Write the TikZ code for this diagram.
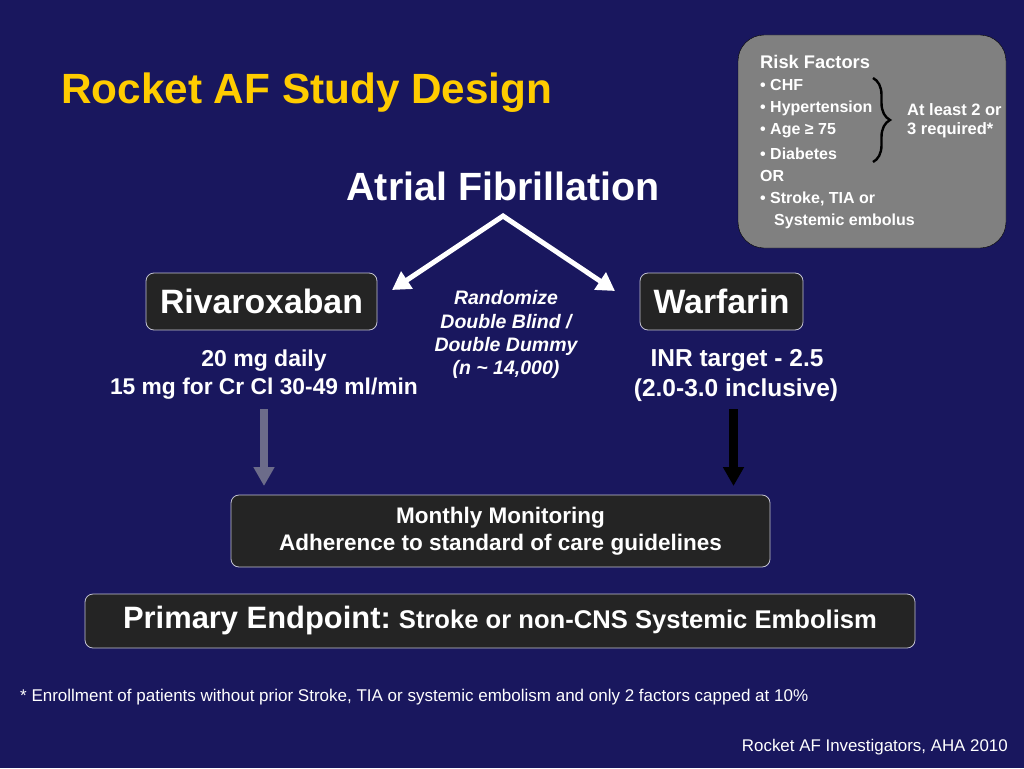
\documentclass[tikz,border=0pt]{standalone}
\usepackage{fontspec}
\setmainfont{Liberation Sans}
\usetikzlibrary{arrows.meta,decorations.pathreplacing}
\definecolor{bgnavy}{RGB}{25,23,94}
\definecolor{titlegold}{RGB}{255,204,0}
\definecolor{boxdark}{RGB}{36,36,36}
\definecolor{boxedge}{RGB}{195,195,210}
\definecolor{riskgray}{RGB}{128,128,128}
\definecolor{grayarrow}{RGB}{108,108,138}
\tikzset{
  darkbox/.style={draw=boxedge, line width=0.8pt, fill=boxdark, rounded corners=8pt, text=white, font=\bfseries},
  wtext/.style={text=white, font=\bfseries, inner sep=0pt},
  risktxt/.style={text=white, font=\bfseries\fontsize{16}{18}\selectfont, anchor=west, inner sep=0pt},
  randtxt/.style={text=white, font=\bfseries\itshape\fontsize{19.5}{21}\selectfont, inner sep=0pt},
  bigarrow/.style={draw=white, line width=5pt, line join=miter, {Triangle[width=20pt,length=18pt]}-{Triangle[width=20pt,length=18pt]}},
  downarrow/.style={line width=8.5pt, -{Triangle[width=20pt,length=19pt]}}
}
\begin{document}
\begin{tikzpicture}[x=1pt,y=-1pt]
\fill[bgnavy] (0,0) rectangle (1024,768);
\useasboundingbox (0,0) rectangle (1024,768);

\node[anchor=base west, text=titlegold, font=\bfseries\fontsize{42.3}{44}\selectfont, inner sep=0pt] (title) at (61,103) {Rocket AF Study Design};

% risk factors box
\draw[fill=riskgray, rounded corners=26pt] (738,35) rectangle (1006,248);
\node[risktxt, font=\bfseries\fontsize{18.3}{20}\selectfont] (rf) at (760,62) {Risk Factors};
\node[risktxt] (r1) at (760,85) {• CHF};
\node[risktxt] (r2) at (760,108) {• Hypertension};
\node[risktxt] (r3) at (760,131) {• Age ≥ 75};
\node[risktxt] (r4) at (760,154) {• Diabetes};
\node[risktxt] (r5) at (760,176) {OR};
\node[risktxt] (r6) at (760,199) {• Stroke, TIA or};
\node[risktxt] (r7) at (774,221) {Systemic embolus};
\coordinate (bt) at (873,78);
\coordinate (bb) at (873,162);
\draw[black, line width=2.4pt, decorate, decoration={brace, amplitude=17pt, aspect=0.5}] (bt) -- (bb);
\node[risktxt, font=\bfseries\fontsize{16.5}{18}\selectfont] (al1) at (907,110) {At least 2 or};
\node[risktxt, font=\bfseries\fontsize{16.5}{18}\selectfont] (al2) at (907,130) {3 required*};

% Atrial fibrillation
\node[wtext, anchor=base, font=\bfseries\fontsize{39.4}{42}\selectfont] (af) at (503,200) {Atrial Fibrillation};
\coordinate (apex) at (503,216);
\coordinate (lend) at (392,290);
\coordinate (rend) at (615,291);
\draw[bigarrow] (lend) -- (apex) -- (rend);

% drug boxes
\node[darkbox, minimum width=231pt, minimum height=57pt, font=\bfseries\fontsize{33.8}{36}\selectfont, inner sep=0pt] (riv) at (261.5,301.5) {Rivaroxaban};
\node[darkbox, minimum width=163pt, minimum height=57pt, font=\bfseries\fontsize{33.8}{36}\selectfont, inner sep=0pt] (war) at (721.5,301.5) {Warfarin};

% randomize text
\node[randtxt] (rz1) at (506,298) {Randomize};
\node[randtxt] (rz2) at (506,322) {Double Blind /};
\node[randtxt] (rz3) at (506,346) {Double Dummy};
\node[randtxt] (rz4) at (506,369) {(n \textasciitilde\ 14,000)};

% dosing text
\node[wtext, font=\bfseries\fontsize{23}{25}\selectfont] (d1) at (264,361) {20 mg daily};
\node[wtext, font=\bfseries\fontsize{22.8}{25}\selectfont] (d2) at (264,389) {15 mg for Cr Cl 30-49 ml/min};
\node[wtext, font=\bfseries\fontsize{24.5}{26}\selectfont] (i1) at (737,361) {INR target - 2.5};
\node[wtext, font=\bfseries\fontsize{24.5}{26}\selectfont] (i2) at (736,390) {(2.0-3.0 inclusive)};

% monitoring box
\node[darkbox, minimum width=539pt, minimum height=72pt, align=center, font=\bfseries\fontsize{22.5}{27}\selectfont, inner sep=0pt] (mon) at (500.5,531) {Monthly Monitoring\\Adherence to standard of care guidelines};

% arrows down
\coordinate (ga) at (264,409);
\coordinate (gb) at (264,486);
\coordinate (ka) at (733.5,409);
\coordinate (kb) at (733.5,486);
\draw[downarrow, draw=grayarrow, fill=grayarrow] (ga) -- (gb);
\draw[downarrow, draw=black, fill=black] (ka) -- (kb);

% primary endpoint box
\node[darkbox, minimum width=830pt, minimum height=54pt, inner sep=0pt] (pe) at (500,621) {{\fontsize{30.9}{33}\selectfont Primary Endpoint:}\hspace{8pt}{\fontsize{25.6}{28}\selectfont Stroke or non-CNS Systemic Embolism}};

% footnotes
\node[anchor=west, text=white, font=\fontsize{17}{19}\selectfont, inner sep=0pt] (fn) at (20,697) {* Enrollment of patients without prior Stroke, TIA or systemic embolism and only 2 factors capped at 10\%};
\node[anchor=east, text=white, font=\fontsize{16.9}{19}\selectfont, inner sep=0pt] (cr) at (1008,747) {Rocket AF Investigators, AHA 2010};
\end{tikzpicture}
\end{document}
